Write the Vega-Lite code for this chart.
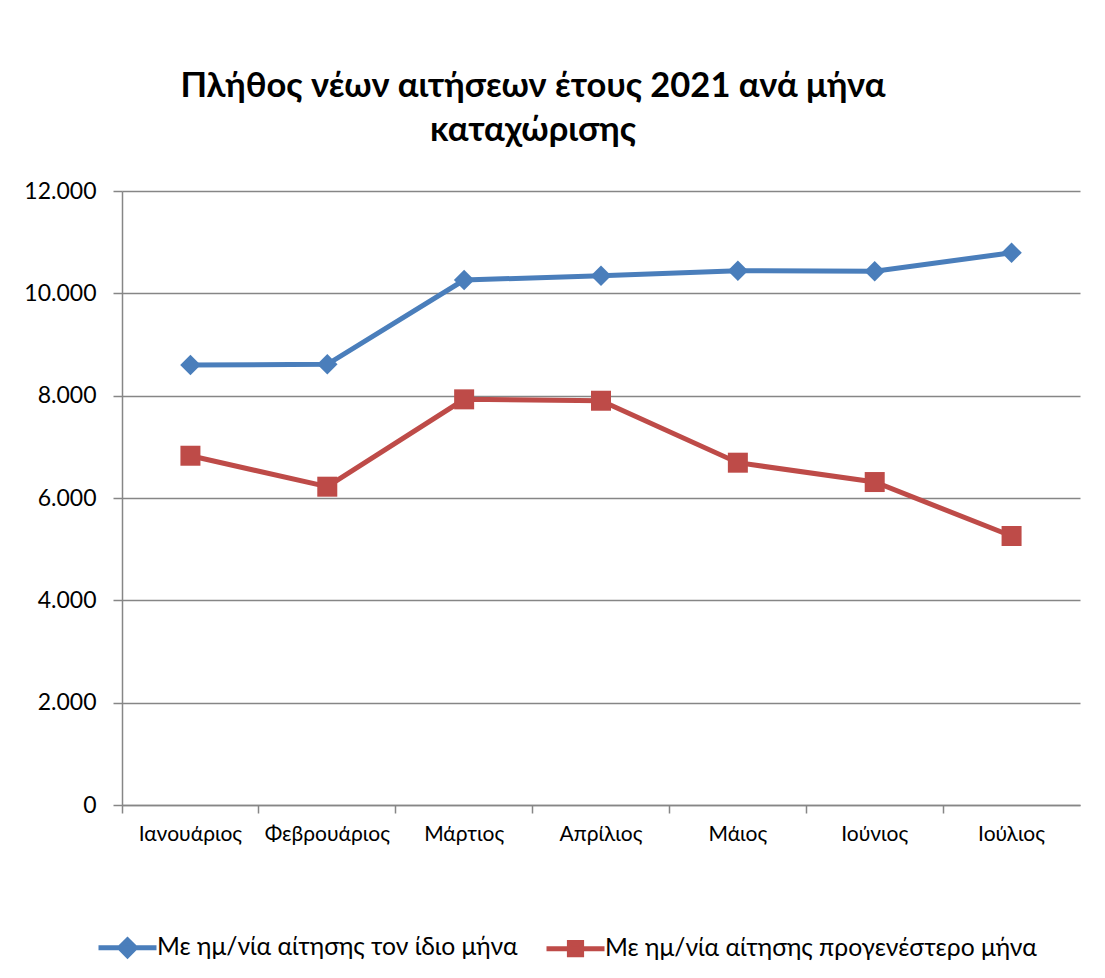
{
  "$schema": "https://vega.github.io/schema/vega-lite/v6.json",
  "autosize": {"type": "none"},
  "width": 958,
  "height": 614,
  "padding": {"left": 122, "top": 191, "right": 25, "bottom": 173},
  "background": "white",
  "config": {
    "locale": {"number": {"decimal": ",", "thousands": ".", "grouping": [3], "currency": ["", " €"]}},
    "view": {"stroke": null},
    "font": "Lato"
  },
  "title": {
    "text": ["Πλήθος νέων αιτήσεων έτους 2021 ανά μήνα", "καταχώρισης"],
    "font": "Lato",
    "fontSize": 34.5,
    "fontWeight": "bold",
    "color": "#000000",
    "lineHeight": 44,
    "anchor": "middle",
    "dx": -68,
    "offset": 32
  },
  "data": {
    "values": [
      {"month": "Ιανουάριος", "series": "Με ημ/νία αίτησης τον ίδιο μήνα", "value": 8600},
      {"month": "Φεβρουάριος", "series": "Με ημ/νία αίτησης τον ίδιο μήνα", "value": 8612},
      {"month": "Μάρτιος", "series": "Με ημ/νία αίτησης τον ίδιο μήνα", "value": 10260},
      {"month": "Απρίλιος", "series": "Με ημ/νία αίτησης τον ίδιο μήνα", "value": 10344},
      {"month": "Μάιος", "series": "Με ημ/νία αίτησης τον ίδιο μήνα", "value": 10442},
      {"month": "Ιούνιος", "series": "Με ημ/νία αίτησης τον ίδιο μήνα", "value": 10430},
      {"month": "Ιούλιος", "series": "Με ημ/νία αίτησης τον ίδιο μήνα", "value": 10794},
      {"month": "Ιανουάριος", "series": "Με ημ/νία αίτησης προγενέστερο μήνα", "value": 6826},
      {"month": "Φεβρουάριος", "series": "Με ημ/νία αίτησης προγενέστερο μήνα", "value": 6221},
      {"month": "Μάρτιος", "series": "Με ημ/νία αίτησης προγενέστερο μήνα", "value": 7928},
      {"month": "Απρίλιος", "series": "Με ημ/νία αίτησης προγενέστερο μήνα", "value": 7901},
      {"month": "Μάιος", "series": "Με ημ/νία αίτησης προγενέστερο μήνα", "value": 6690},
      {"month": "Ιούνιος", "series": "Με ημ/νία αίτησης προγενέστερο μήνα", "value": 6312},
      {"month": "Ιούλιος", "series": "Με ημ/νία αίτησης προγενέστερο μήνα", "value": 5257}
    ]
  },
  "encoding": {
    "x": {
      "field": "month",
      "type": "nominal",
      "sort": ["Ιανουάριος", "Φεβρουάριος", "Μάρτιος", "Απρίλιος", "Μάιος", "Ιούνιος", "Ιούλιος"],
      "scale": {"type": "band", "paddingInner": 0, "paddingOuter": 0},
      "axis": {
        "title": null,
        "labelAngle": 0,
        "labelFont": "Lato",
        "labelFontSize": 21,
        "labelColor": "#000000",
        "labelPadding": 10,
        "bandPosition": 0,
        "ticks": true,
        "tickSize": 8,
        "tickColor": "#868686",
        "tickWidth": 1.5,
        "domainColor": "#868686",
        "domainWidth": 1.5,
        "grid": false
      }
    },
    "y": {
      "field": "value",
      "type": "quantitative",
      "scale": {"domain": [0, 12000], "nice": false},
      "axis": {
        "title": null,
        "values": [0, 2000, 4000, 6000, 8000, 10000, 12000],
        "format": ",d",
        "labelFont": "Lato",
        "labelFontSize": 23,
        "labelColor": "#000000",
        "labelPadding": 17,
        "tickSize": 9,
        "tickColor": "#868686",
        "tickWidth": 1.5,
        "domainColor": "#868686",
        "domainWidth": 1.5,
        "grid": true,
        "gridColor": "#868686",
        "gridWidth": 1.5
      }
    }
  },
  "layer": [
    {
      "mark": {"type": "line", "strokeWidth": 5},
      "encoding": {
        "color": {
          "field": "series",
          "type": "nominal",
          "sort": ["Με ημ/νία αίτησης τον ίδιο μήνα", "Με ημ/νία αίτησης προγενέστερο μήνα"],
          "scale": {"domain": ["Με ημ/νία αίτησης τον ίδιο μήνα", "Με ημ/νία αίτησης προγενέστερο μήνα"], "range": ["#4A7EBB", "#BE4B48"]},
          "legend": {
            "title": null,
            "orient": "none",
            "direction": "horizontal",
            "legendX": -26,
            "legendY": 725,
            "labelFont": "Lato",
            "labelFontSize": 24.7,
            "labelColor": "#000000",
            "labelLimit": 600,
            "labelOffset": -2,
            "columnPadding": 18,
            "symbolSize": 3364,
            "symbolStrokeWidth": 5,
            "symbolOpacity": 1
          }
        }
      }
    },
    {
      "transform": [{"filter": "datum.series === 'Με ημ/νία αίτησης τον ίδιο μήνα'"}],
      "mark": {"type": "point", "filled": true, "shape": "diamond", "size": 420, "opacity": 1},
      "encoding": {"color": {"field": "series", "type": "nominal"}}
    },
    {
      "transform": [{"filter": "datum.series === 'Με ημ/νία αίτησης προγενέστερο μήνα'"}],
      "mark": {"type": "point", "filled": true, "shape": "square", "size": 400, "opacity": 1},
      "encoding": {"color": {"field": "series", "type": "nominal"}}
    },
    {
      "mark": {"type": "point", "filled": true, "size": 3364, "strokeWidth": 5, "opacity": 0},
      "encoding": {
        "color": {"field": "series", "type": "nominal"},
        "stroke": {
          "field": "series",
          "type": "nominal",
          "scale": {"domain": ["Με ημ/νία αίτησης τον ίδιο μήνα", "Με ημ/νία αίτησης προγενέστερο μήνα"], "range": ["#4A7EBB", "#BE4B48"]}
        },
        "shape": {
          "field": "series",
          "type": "nominal",
          "scale": {"domain": ["Με ημ/νία αίτησης τον ίδιο μήνα", "Με ημ/νία αίτησης προγενέστερο μήνα"], "range": ["M-1,0L1,0M0,-0.27L0.27,0L0,0.27L-0.27,0Z", "M-1,0L1,0M-0.21,-0.21L0.21,-0.21L0.21,0.21L-0.21,0.21Z"]}
        }
      }
    }
  ]
}
